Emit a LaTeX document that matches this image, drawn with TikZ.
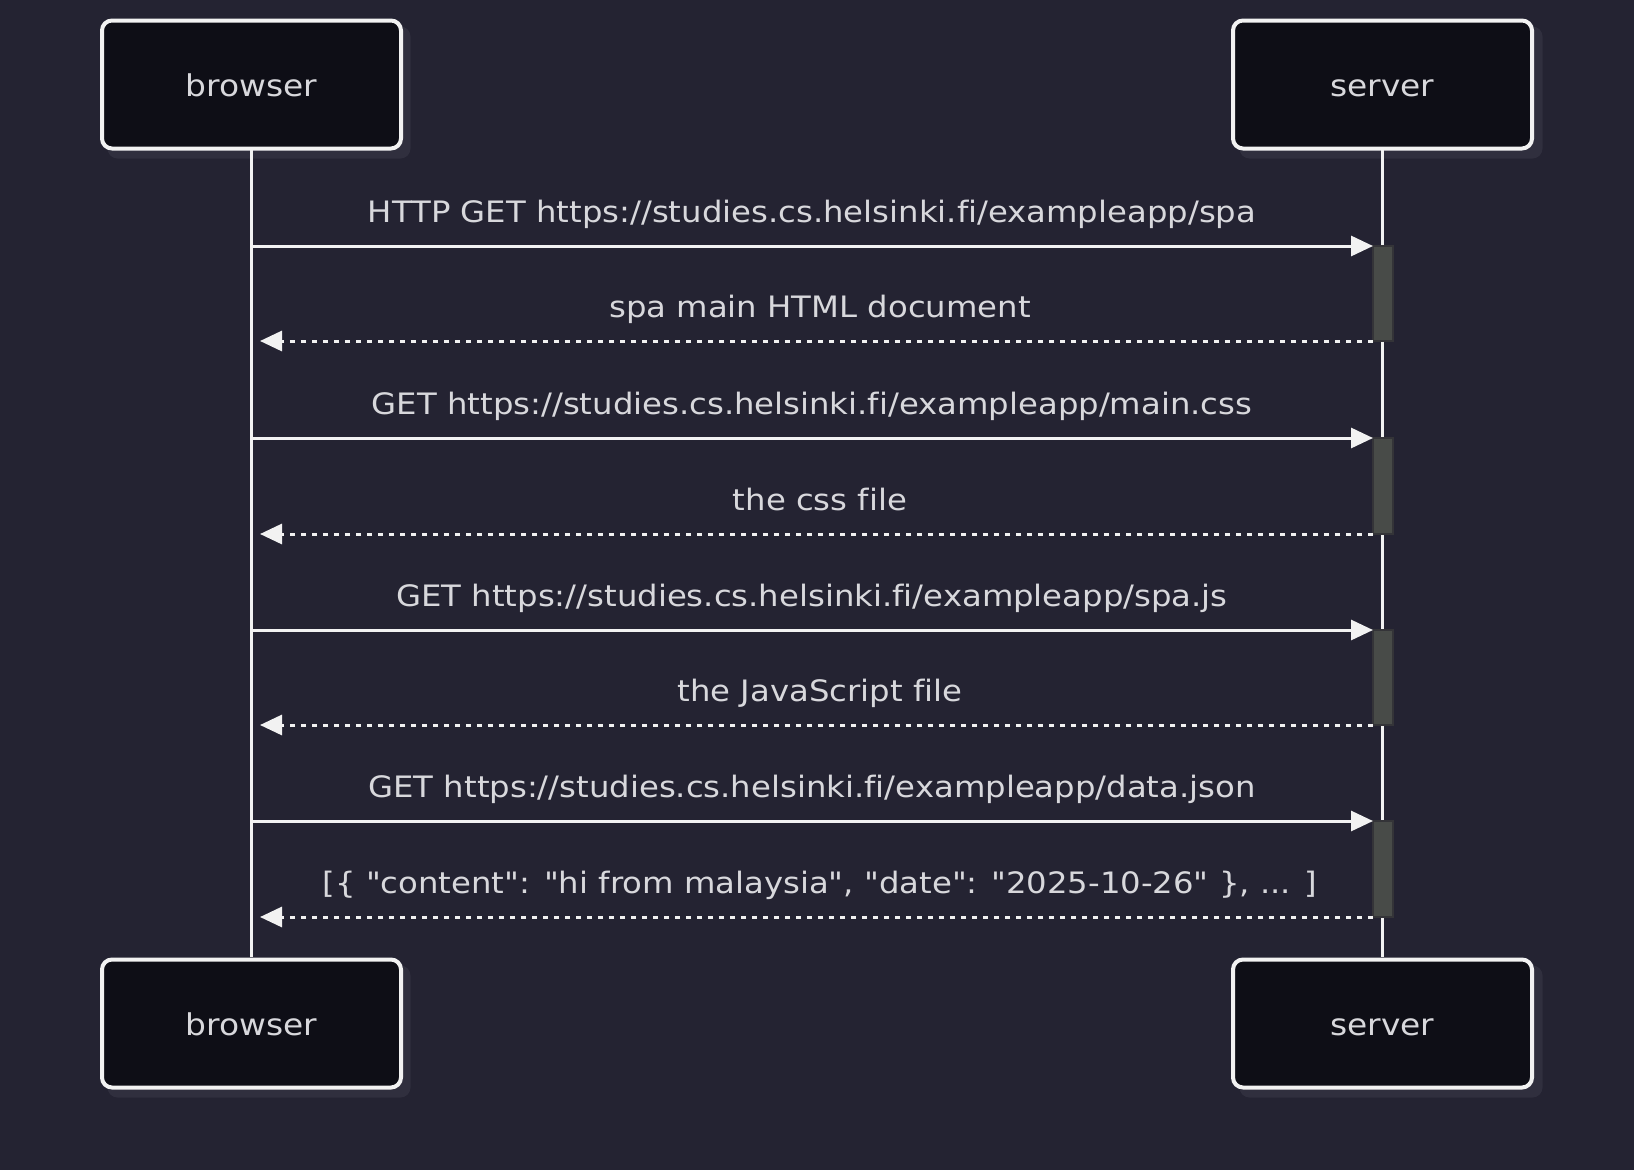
\documentclass[tikz,border=0pt]{standalone}
\usepackage{fontspec}
\newfontfamily\lblfont{DejaVu Sans}[Ligatures=NoCommon, FakeStretch=1.095]
\usetikzlibrary{arrows.meta}
\definecolor{bgc}{RGB}{36,35,50}
\definecolor{boxfill}{RGB}{14,14,22}
\definecolor{shadowc}{RGB}{48,47,62}
\definecolor{actfill}{RGB}{72,75,72}
\definecolor{actdraw}{RGB}{52,52,56}
\definecolor{txtc}{RGB}{216,216,220}
\definecolor{linec}{RGB}{242,242,242}
\tikzset{
  actor/.style={draw=linec, line width=4pt, fill=boxfill, rounded corners=10pt,
    minimum width=299pt, minimum height=128pt, text=txtc,
    font=\lblfont\fontsize{30}{36}\selectfont, inner sep=0pt, text height=24pt, text depth=0pt},
  shadowbox/.style={fill=shadowc, rounded corners=10pt, minimum width=303pt, minimum height=132pt, inner sep=0pt},
  lifeline/.style={draw=linec, line width=3pt},
  msg/.style={draw=linec, line width=3pt, -{Triangle[length=22pt,width=20pt]}},
  reply/.style={draw=linec, line width=3pt, dash pattern=on 5.5pt off 5.5pt, -{Triangle[length=22pt,width=20pt]}},
  lbl/.style={text=txtc, font=\lblfont\fontsize{29.5}{36}\selectfont, anchor=base, inner sep=0pt},
}
\begin{document}
\begin{tikzpicture}[x=1pt,y=-1pt]
\fill[bgc] (0,0) rectangle (1634,1170);
\useasboundingbox (0,0) rectangle (1634,1170);
% shadows
\node[shadowbox] (sh1) at (259,92.5) {};
\node[shadowbox] (sh2) at (1391,92.5) {};
\node[shadowbox] (sh3) at (259,1031.5) {};
\node[shadowbox] (sh4) at (1391,1031.5) {};
% lifelines
\coordinate (bt) at (251.5,150);
\coordinate (bb) at (251.5,957);
\coordinate (st) at (1382.5,150);
\coordinate (sb) at (1382.5,957);
\draw[lifeline] (bt) -- (bb);
\draw[lifeline] (st) -- (sb);
% actors
\node[actor] (browserTop) at (251.5,84.5) {browser};
\node[actor] (serverTop) at (1382.5,84.5) {server};
\node[actor] (browserBot) at (251.5,1023.5) {browser};
\node[actor] (serverBot) at (1382.5,1023.5) {server};
% activation bars
\foreach \i/\ya/\yb in {1/246/341, 2/438/534, 3/630/725, 4/821/917}{
  \path (1373,\ya) coordinate (a\i n) (1393,\yb) coordinate (a\i s);
  \filldraw[fill=actfill, draw=actdraw, line width=1.5pt] (a\i n) rectangle (a\i s);
}
% message endpoints
\foreach \i/\y in {1/246,2/341,3/438,4/534,5/630,6/725,7/821,8/917}{
  \coordinate (L\i) at (251.5,\y);
  \coordinate (R\i) at (1373,\y);
  \coordinate (T\i) at (260,\y);
}
\draw[msg] (L1) -- (R1);
\draw[reply] (R2) -- (T2);
\draw[msg] (L3) -- (R3);
\draw[reply] (R4) -- (T4);
\draw[msg] (L5) -- (R5);
\draw[reply] (R6) -- (T6);
\draw[msg] (L7) -- (R7);
\draw[reply] (R8) -- (T8);
% labels
\node[lbl] (m1) at (812,222) {HTTP GET https://studies.cs.helsinki.fi/exampleapp/spa};
\node[lbl] (m2) at (820,317) {spa main HTML document};
\node[lbl] (m3) at (812,414) {GET https://studies.cs.helsinki.fi/exampleapp/main.css};
\node[lbl] (m4) at (820,510) {the css file};
\node[lbl] (m5) at (812,606) {GET https://studies.cs.helsinki.fi/exampleapp/spa.js};
\node[lbl] (m6) at (820,701) {the JavaScript file};
\node[lbl] (m7) at (812,797) {GET https://studies.cs.helsinki.fi/exampleapp/data.json};
\node[lbl] (m8) at (820,893) {[\{ "content": "hi from malaysia", "date": "2025-10-26" \}, ... ]};
\end{tikzpicture}
\end{document}
